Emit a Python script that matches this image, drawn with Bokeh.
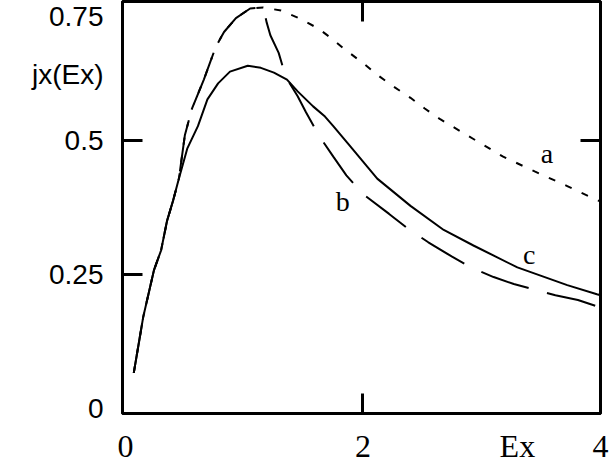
from bokeh.plotting import figure
from bokeh.models import FixedTicker, LinearAxis, Label
from bokeh.embed import file_html
from bokeh.resources import INLINE

# shared rising part (all three curves coincide)
x_common = [0.07, 0.15, 0.24, 0.30, 0.35, 0.40, 0.45]
y_common = [0.066, 0.171, 0.258, 0.295, 0.350, 0.387, 0.429]

# curve a (short dashes)
x_a = x_common + [0.50, 0.56, 0.66, 0.76, 0.83, 0.93, 1.05, 1.16, 1.31, 1.45, 1.62, 1.73,
                  1.85, 2.00, 2.12, 2.25, 2.40, 2.52, 2.65, 2.93, 3.18, 3.45, 3.72, 3.97, 4.0]
y_a = y_common + [0.51, 0.56, 0.614, 0.675, 0.703, 0.729, 0.747, 0.749, 0.743, 0.730, 0.710, 0.692,
                  0.670, 0.645, 0.623, 0.602, 0.580, 0.560, 0.540, 0.503, 0.470, 0.442, 0.415, 0.389, 0.386]

# curve b (long dashes)
x_b = x_common + [0.50, 0.56, 0.66, 0.76, 0.83, 0.93, 1.05, 1.16, 1.19, 1.22, 1.29, 1.35, 1.45,
                  1.52, 1.63, 1.75, 1.86, 2.00, 2.22, 2.37, 2.55, 2.75, 2.91, 3.10, 3.27, 3.44,
                  3.62, 3.81, 4.0]
y_b = y_common + [0.51, 0.56, 0.614, 0.675, 0.703, 0.729, 0.747, 0.749, 0.720, 0.697, 0.664, 0.619, 0.583,
                  0.553, 0.509, 0.470, 0.435, 0.400, 0.363, 0.337, 0.310, 0.283, 0.263, 0.245, 0.232, 0.222,
                  0.211, 0.202, 0.188]

# curve c (solid)
x_c = x_common + [0.52, 0.61, 0.69, 0.78, 0.88, 1.03, 1.14, 1.25, 1.36, 1.45, 1.58, 1.68, 1.75,
                  1.89, 2.12, 2.40, 2.68, 2.93, 3.30, 3.72, 3.97, 4.0]
y_c = y_common + [0.485, 0.527, 0.577, 0.607, 0.629, 0.640, 0.636, 0.627, 0.614, 0.592, 0.564, 0.545, 0.527,
                  0.490, 0.429, 0.378, 0.333, 0.304, 0.263, 0.230, 0.213, 0.211]

# tick marks
x_tick_marks = [2]
y_tick_marks = [0.25, 0.5]
right_tick_marks = [0.5]
top_tick_marks = [2]

# tick labels (value -> text); axis titles sit among them
x_label_pos = [0, 2, 3.30, 4]
x_label_txt = ["0", "2", "Ex", "4"]
y_label_pos = [0, 0.25, 0.5, 0.623, 0.735]
y_label_txt = ["0", "0.25", "0.5", "jx(Ex)", "0.75"]

curve_names = ["a", "b", "c"]
curve_label_x = [3.55, 1.83, 3.40]
curve_label_y = [0.475, 0.386, 0.287]

p = figure(width=613, height=466, x_range=(-0.025, 4.0), y_range=(-0.01, 0.76),
           output_backend="svg", toolbar_location=None,
           min_border_left=122, min_border_right=13, min_border_top=1, min_border_bottom=48)
p.background_fill_color = "white"
p.border_fill_color = "white"
p.outline_line_color = "black"
p.outline_line_width = 3
p.xgrid.visible = False
p.ygrid.visible = False


def tick_only(ax, ticks):
    ax.ticker = FixedTicker(ticks=ticks)
    ax.major_label_overrides = {t: "" for t in ticks}
    ax.major_label_text_font_size = "0px"
    ax.major_label_standoff = 0
    ax.major_tick_in = 20
    ax.major_tick_out = 0
    ax.minor_tick_line_color = None
    ax.axis_line_width = 3
    ax.major_tick_line_width = 3
    ax.axis_line_color = "black"
    ax.major_tick_line_color = "black"


tick_only(p.xaxis[0], x_tick_marks)
tick_only(p.yaxis[0], y_tick_marks)
top = LinearAxis()
tick_only(top, top_tick_marks)
right = LinearAxis()
tick_only(right, right_tick_marks)
p.add_layout(top, "above")
p.add_layout(right, "right")

xl = LinearAxis(ticker=FixedTicker(ticks=x_label_pos),
                major_label_overrides=dict(zip(x_label_pos, x_label_txt)),
                major_tick_line_color=None, minor_tick_line_color=None, axis_line_color=None,
                major_label_text_font="Liberation Serif", major_label_text_font_size="32px",
                major_label_text_color="black", major_label_standoff=8)
yl = LinearAxis(ticker=FixedTicker(ticks=y_label_pos),
                major_label_overrides=dict(zip(y_label_pos, y_label_txt)),
                major_tick_line_color=None, minor_tick_line_color=None, axis_line_color=None,
                major_label_text_font="Liberation Sans", major_label_text_font_size="28px",
                major_label_text_color="black", major_label_standoff=13)
p.add_layout(xl, "below")
p.add_layout(yl, "left")

p.line(x_c, y_c, line_color="black", line_width=2)
p.line(x_b, y_b, line_color="black", line_width=2, line_dash="50 19")
p.line(x_a, y_a, line_color="black", line_width=2, line_dash="7 11")

for t, x, y in zip(curve_names, curve_label_x, curve_label_y):
    p.add_layout(Label(x=x, y=y, text=t, text_font="Liberation Serif", text_font_size="28px",
                       text_align="center", text_baseline="middle", text_color="black"))

open("out.html", "w").write(file_html(p, INLINE))
